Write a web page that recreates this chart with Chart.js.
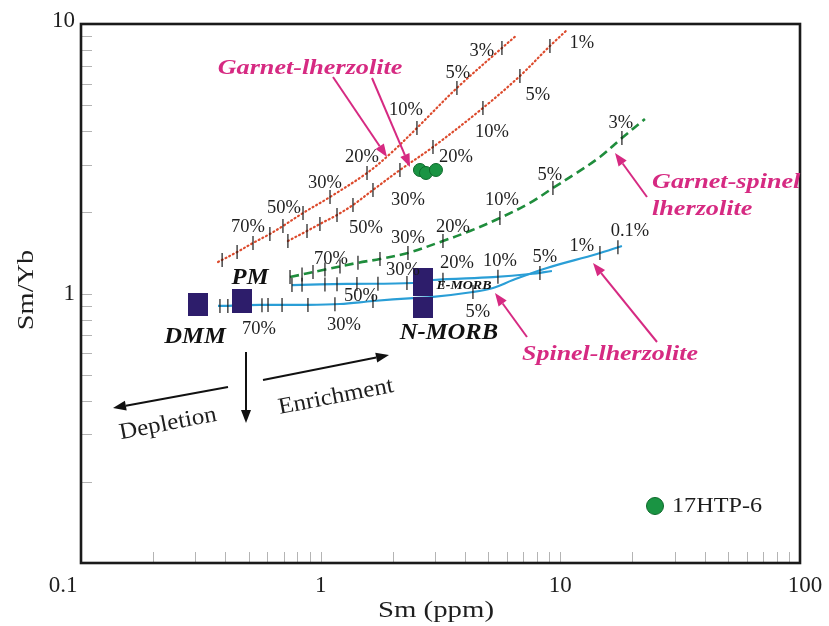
<!DOCTYPE html>
<html>
<head>
<meta charset="utf-8">
<script src="https://cdn.jsdelivr.net/npm/chart.js@4/dist/chart.umd.min.js"></script>
<style>
  html, body { margin: 0; padding: 0; background: #fff; }
  canvas { display: block; }
</style>
</head>
<body>
<canvas id="chart" width="829" height="626"></canvas>
<script>
// ---- Sm vs Sm/Yb melting model ----

// Garnet lherzolite, upper curve (line vertices and melt-fraction ticks)
const grtUpperLineSm    = [0.373, 0.448, 0.522, 0.614, 0.696, 0.844, 1.094, 1.561, 1.946, 2.522, 3.703, 5.706, 6.591];
const grtUpperLineRatio = [1.309, 1.425, 1.540, 1.663, 1.780, 1.989, 2.281, 2.800, 3.293, 4.112, 5.788, 8.146, 9.103];
const grtUpperTickSm    = [0.388, 0.448, 0.522, 0.614, 0.696, 0.844, 1.094, 1.561, 2.522, 3.703, 5.706];
const grtUpperTickRatio = [1.331, 1.425, 1.540, 1.663, 1.780, 1.989, 2.281, 2.800, 4.112, 5.788, 8.146];
const grtUpperTickText  = ['', '', '', '70%', '', '50%', '30%', '20%', '10%', '5%', '3%'];

// Garnet lherzolite, lower curve
const grtLowerLineSm    = [0.730, 0.877, 0.993, 1.170, 1.364, 1.653, 2.142, 2.942, 4.754, 6.783, 9.050, 10.66];
const grtLowerLineRatio = [1.566, 1.706, 1.811, 1.956, 2.130, 2.422, 2.873, 3.496, 4.878, 6.413, 8.285, 9.500];
const grtLowerTickSm    = [0.730, 0.877, 0.993, 1.170, 1.364, 1.653, 2.142, 2.942, 4.754, 6.783, 9.050];
const grtLowerTickRatio = [1.566, 1.706, 1.811, 1.956, 2.130, 2.422, 2.873, 3.496, 4.878, 6.413, 8.285];
const grtLowerTickText  = ['', '', '', '', '50%', '', '30%', '20%', '10%', '5%', '1%'];

// Garnet-spinel lherzolite
const gspLineSm    = [0.745, 1.022, 1.417, 1.768, 2.313, 3.238, 4.196, 5.597, 7.467, 9.314, 11.51, 14.63, 18.07, 22.54];
const gspLineRatio = [1.151, 1.222, 1.298, 1.343, 1.414, 1.566, 1.706, 1.906, 2.167, 2.463, 2.776, 3.210, 3.775, 4.441];
const gspTickSm    = [0.745, 0.836, 0.929, 1.042, 1.204, 1.431, 1.768, 2.313, 3.238, 5.597, 9.314, 18.07];
const gspTickRatio = [1.151, 1.176, 1.201, 1.227, 1.259, 1.300, 1.343, 1.414, 1.566, 1.906, 2.463, 3.775];
const gspTickText  = ['', '', '', '70%', '', '', '', '30%', '20%', '10%', '5%', '3%'];

// Spinel lherzolite, PM source
const splPmLineSm    = [0.759, 1.288, 2.427, 2.942, 5.234, 7.467, 9.225];
const splPmLineRatio = [1.075, 1.085, 1.094, 1.122, 1.151, 1.181, 1.212];
const splPmTickSm    = [0.759, 0.836, 1.042, 1.170, 1.417, 1.734, 2.291, 3.238, 5.491, 8.221];
const splPmTickRatio = [1.075, 1.077, 1.081, 1.083, 1.085, 1.088, 1.093, 1.125, 1.155, 1.192];
const splPmTickText  = ['', '', '', '', '50%', '', '30%', '20%', '10%', '5%'];

// Spinel lherzolite, DMM source
const splDmmLineSm    = [0.373, 0.558, 0.820, 1.204, 1.653, 2.427, 2.942, 4.319, 5.234, 6.342, 8.792, 14.21, 18.07];
const splDmmLineRatio = [0.899, 0.907, 0.907, 0.914, 0.938, 0.962, 0.971, 1.013, 1.048, 1.122, 1.244, 1.401, 1.501];
const splDmmTickSm    = [0.380, 0.410, 0.493, 0.569, 0.603, 0.690, 0.885, 1.147, 1.653, 4.319, 14.63, 17.39];
const splDmmTickRatio = [0.899, 0.899, 0.903, 0.905, 0.907, 0.907, 0.907, 0.913, 0.938, 1.013, 1.414, 1.484];
const splDmmTickText  = ['', '', '', '70%', '', '', '', '30%', '', '5%', '1%', '0.1%'];

// Mantle and basalt reservoirs
const reservoirNames = ['DMM', 'PM', 'E-MORB', 'N-MORB'];
const reservoirSm    = [0.308, 0.470, 2.672, 2.672];
const reservoirRatio = [0.914, 0.938, 1.103, 0.887];

// Sample 17HTP-6
const sampleName  = '17HTP-6';
const sampleSm    = [2.596, 2.750, 3.027];
const sampleRatio = [2.873, 2.800, 2.873];

// Axis ticks
const xTickValues = [1, 10, 100];
const yTickValues = [10, 1];
const cornerTick  = 0.1;

// ---- layout and style ----
const SERIF = '"Liberation Serif", "Times New Roman", serif';
const PINK = '#d62a82';
const RED = '#dc4a2c';
const GREEN = '#1f8d3c';
const BLUE = '#2a9ed6';
const NAVY = '#2d1d6b';
const INK = '#1e1e1e';

// label offsets (px) from each melt-fraction tick
const grtUpperLabelOffsets = [null, null, null, [-22, -7], null, [-19, -5], [-5, -14], [-5, -16], [-11, -18], [1, -15], [-20, 3]];
const grtLowerLabelOffsets = [null, null, null, null, [13, 23], null, [8, 30], [23, 10], [9, 24], [18, 19], [32, -3]];
const gspLabelOffsets = [null, null, null, [6, -10], null, null, null, [0, -15], [10, -14], [2, -18], [-3, -13], [-1, -15]];
const splPmLabelOffsets = [null, null, null, null, [4, 12], null, [-4, -13], [14, -17], [2, -15], [5, -16]];
const splDmmLabelOffsets = [null, null, null, [-3, 24], null, null, null, [9, 21], null, [5, 20], [-18, -7], [12, -16]];

const reservoirBoxes = [[20, 23], [20, 24], [20, 28], [20, 21]];
const reservoirLabelStyle = [
  { dx: -3, dy: 33, size: 23 },
  { dx: 8, dy: -23, size: 23 },
  { dx: 41, dy: 4, size: 13 },
  { dx: 26, dy: 26, size: 23 }
];

const zip = (xs, ys) => xs.map((x, i) => ({ x, y: ys[i] }));

function boxImage(w, h) {
  const c = document.createElement('canvas');
  c.width = w; c.height = h;
  const g = c.getContext('2d');
  g.fillStyle = NAVY;
  g.fillRect(0, 0, w, h);
  return c;
}

const curves = [
  { line: zip(grtUpperLineSm, grtUpperLineRatio), ticks: zip(grtUpperTickSm, grtUpperTickRatio),
    text: grtUpperTickText, offsets: grtUpperLabelOffsets, color: RED, dash: [1, 3.2], width: 2.2, cap: 'round' },
  { line: zip(grtLowerLineSm, grtLowerLineRatio), ticks: zip(grtLowerTickSm, grtLowerTickRatio),
    text: grtLowerTickText, offsets: grtLowerLabelOffsets, color: RED, dash: [1, 3.2], width: 2.2, cap: 'round' },
  { line: zip(gspLineSm, gspLineRatio), ticks: zip(gspTickSm, gspTickRatio),
    text: gspTickText, offsets: gspLabelOffsets, color: GREEN, dash: [9, 5], width: 2.6, cap: 'butt' },
  { line: zip(splPmLineSm, splPmLineRatio), ticks: zip(splPmTickSm, splPmTickRatio),
    text: splPmTickText, offsets: splPmLabelOffsets, color: BLUE, dash: [], width: 2.2, cap: 'butt' },
  { line: zip(splDmmLineSm, splDmmLineRatio), ticks: zip(splDmmTickSm, splDmmTickRatio),
    text: splDmmTickText, offsets: splDmmLabelOffsets, color: BLUE, dash: [], width: 2.2, cap: 'butt' }
];

const datasets = [];
curves.forEach(c => {
  datasets.push({
    data: c.line, showLine: true, pointRadius: 0, borderColor: c.color, borderWidth: c.width,
    borderDash: c.dash, borderCapStyle: c.cap, tension: 0.35, fill: false, order: 3
  });
  datasets.push({
    data: c.ticks, showLine: false, pointStyle: 'line', rotation: 90, pointRadius: 7,
    borderColor: '#1a1a1a', borderWidth: 1.2, order: 2
  });
});
datasets.push({
  data: zip(reservoirSm, reservoirRatio), showLine: false,
  pointStyle: reservoirBoxes.map(b => boxImage(b[0], b[1])), pointRadius: 12, order: 1
});
datasets.push({
  data: zip(sampleSm, sampleRatio), showLine: false, pointStyle: 'circle', pointRadius: 6.5,
  backgroundColor: '#1a9443', borderColor: '#0d6a2b', borderWidth: 1, order: 0
});

// pink and black call-out arrows, pixel space
const callouts = [
  { from: [333, 77], to: [387, 157], color: PINK },
  { from: [372, 78], to: [410, 167], color: PINK },
  { from: [647, 197], to: [615, 153], color: PINK },
  { from: [527, 337], to: [495, 293], color: PINK },
  { from: [657, 342], to: [593, 263], color: PINK },
  { from: [228, 387], to: [113, 408], color: '#111' },
  { from: [246, 352], to: [246, 423], color: '#111' },
  { from: [263, 380], to: [389, 355], color: '#111' }
];

const notes = [
  { text: 'Garnet-lherzolite', x: 310, y: 68, font: 'italic bold 22px', sx: 1.19, color: PINK, align: 'center' },
  { text: 'Garnet-spinel', x: 652, y: 182, font: 'italic bold 22px', sx: 1.19, color: PINK, align: 'left' },
  { text: 'lherzolite', x: 652, y: 209, font: 'italic bold 22px', sx: 1.19, color: PINK, align: 'left' },
  { text: 'Spinel-lherzolite', x: 522, y: 354, font: 'italic bold 22px', sx: 1.18, color: PINK, align: 'left' },
  { text: 'Enrichment', x: 336, y: 397, font: '23px', sx: 1.09, color: INK, align: 'center', rot: -11 },
  { text: 'Depletion', x: 168, y: 424, font: '23px', sx: 1.09, color: INK, align: 'center', rot: -11 }
];

function drawArrow(ctx, a) {
  const [x1, y1] = a.from, [x2, y2] = a.to;
  const ang = Math.atan2(y2 - y1, x2 - x1);
  const hl = 13, hw = 10;
  const bx = x2 - hl * Math.cos(ang), by = y2 - hl * Math.sin(ang);
  ctx.save();
  ctx.strokeStyle = a.color; ctx.fillStyle = a.color; ctx.lineWidth = 2;
  ctx.beginPath(); ctx.moveTo(x1, y1); ctx.lineTo(bx, by); ctx.stroke();
  ctx.beginPath();
  ctx.moveTo(x2, y2);
  ctx.lineTo(bx + hw / 2 * Math.sin(ang), by - hw / 2 * Math.cos(ang));
  ctx.lineTo(bx - hw / 2 * Math.sin(ang), by + hw / 2 * Math.cos(ang));
  ctx.closePath(); ctx.fill();
  ctx.restore();
}

// text with an optional horizontal stretch and rotation
function drawText(ctx, s, x, y, font, color, align, rot, sx) {
  ctx.save();
  ctx.font = font + ' ' + SERIF;
  ctx.fillStyle = color;
  ctx.textAlign = align || 'center';
  ctx.textBaseline = 'middle';
  ctx.translate(x, y);
  if (rot) ctx.rotate(rot * Math.PI / 180);
  if (sx) ctx.scale(sx, 1);
  ctx.fillText(s, 0, 0);
  ctx.restore();
}

const framePlugin = {
  id: 'frame',
  beforeDraw(chart) {
    const ctx = chart.ctx;
    ctx.save();
    ctx.fillStyle = '#fff';
    ctx.fillRect(0, 0, chart.width, chart.height);
    ctx.restore();
  },
  afterDatasetsDraw(chart) {
    const ctx = chart.ctx;
    const { left, right, top, bottom } = chart.chartArea;
    const xs = chart.scales.x, ys = chart.scales.y;

    // minor ticks, drawn inward from the left and bottom edges
    ctx.save();
    ctx.strokeStyle = '#b4b4b4';
    ctx.lineWidth = 1;
    for (let k = -1; k <= 1; k++) {
      for (let d = 1; d <= 9; d++) {
        const v = d * Math.pow(10, k);
        if (v > 0.1 + 1e-9 && v < 100 - 1e-9) {
          const px = Math.round(xs.getPixelForValue(v)) + 0.5;
          ctx.beginPath(); ctx.moveTo(px, bottom); ctx.lineTo(px, bottom - 11); ctx.stroke();
        }
        if (v > 0.1 + 1e-9 && v < 10 - 1e-9) {
          const py = Math.round(ys.getPixelForValue(v)) + 0.5;
          ctx.beginPath(); ctx.moveTo(left, py); ctx.lineTo(left + 11, py); ctx.stroke();
        }
      }
    }
    ctx.restore();

    // plot frame
    ctx.save();
    ctx.strokeStyle = '#1a1a1a';
    ctx.lineWidth = 2.6;
    ctx.strokeRect(left, top, right - left, bottom - top);
    ctx.restore();

    // axis numbers
    xTickValues.forEach(v => drawText(ctx, String(v), xs.getPixelForValue(v) + (v === 100 ? 5 : 0), bottom + 23, '23px', INK, 'center'));
    yTickValues.forEach(v => {
      const py = v === 10 ? top - 3 : ys.getPixelForValue(v);
      drawText(ctx, String(v), left - 6, py, '23px', INK, 'right');
    });
    drawText(ctx, String(cornerTick), left - 18, bottom + 23, '23px', INK, 'center');

    // axis titles
    drawText(ctx, 'Sm (ppm)', 436, bottom + 48, '24px', INK, 'center', 0, 1.2);
    drawText(ctx, 'Sm/Yb', 27, 290, '24px', INK, 'center', -90, 1.18);

    // melt-fraction labels next to the ticks
    curves.forEach(c => {
      c.ticks.forEach((p, i) => {
        if (!c.text[i] || !c.offsets[i]) return;
        const px = xs.getPixelForValue(p.x), py = ys.getPixelForValue(p.y);
        drawText(ctx, c.text[i], px + c.offsets[i][0], py + c.offsets[i][1], '18.5px', INK, 'center');
      });
    });

    // reservoir names
    reservoirNames.forEach((n, i) => {
      const px = xs.getPixelForValue(reservoirSm[i]), py = ys.getPixelForValue(reservoirRatio[i]);
      const s = reservoirLabelStyle[i];
      drawText(ctx, n, px + s.dx, py + s.dy, 'italic bold ' + s.size + 'px', '#111', 'center', 0, 1.07);
    });

    // arrows and notes
    callouts.forEach(a => drawArrow(ctx, a));
    notes.forEach(n => drawText(ctx, n.text, n.x, n.y, n.font, n.color, n.align, n.rot, n.sx));

    // sample key
    ctx.save();
    ctx.beginPath();
    ctx.arc(655, 506, 8.5, 0, Math.PI * 2);
    ctx.fillStyle = '#1a9443'; ctx.fill();
    ctx.strokeStyle = '#0d6a2b'; ctx.lineWidth = 1; ctx.stroke();
    ctx.restore();
    drawText(ctx, sampleName, 672, 506, '22px', INK, 'left', 0, 1.1);
  }
};

new Chart(document.getElementById('chart'), {
  type: 'scatter',
  data: { datasets },
  options: {
    responsive: false,
    animation: false,
    devicePixelRatio: 1,
    layout: { padding: { left: 81, right: 29, top: 24, bottom: 63 } },
    plugins: { legend: { display: false }, tooltip: { enabled: false } },
    scales: {
      x: { type: 'logarithmic', min: 0.1, max: 100, display: false },
      y: { type: 'logarithmic', min: 0.1, max: 10, display: false }
    }
  },
  plugins: [framePlugin]
});
</script>
</body>
</html>
